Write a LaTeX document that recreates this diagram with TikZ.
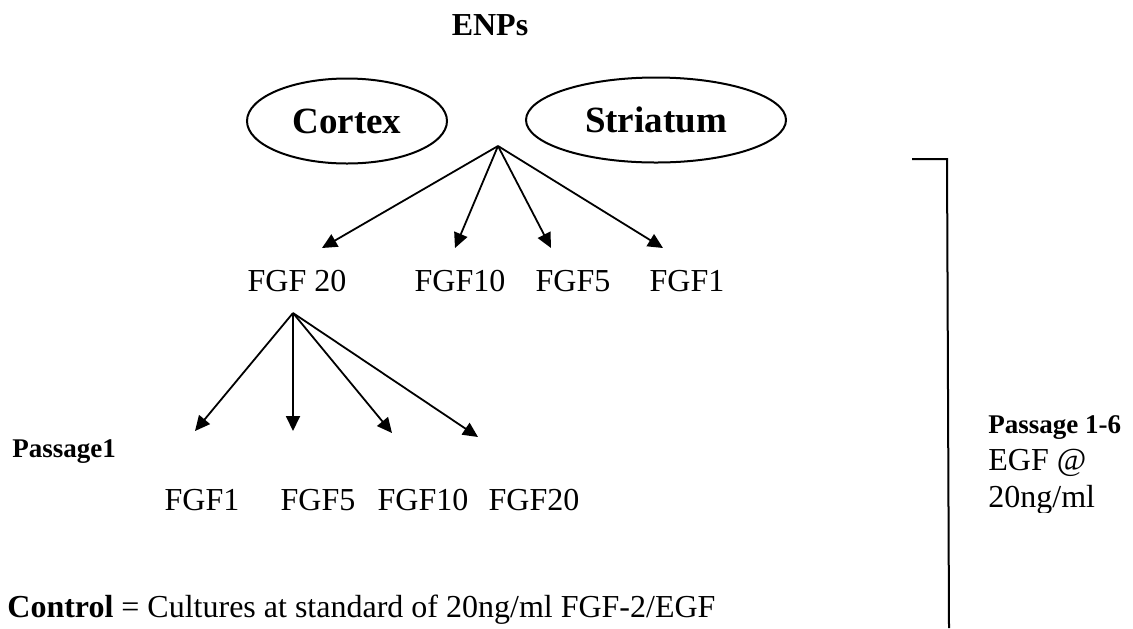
\documentclass[tikz,border=0pt]{standalone}
\usepackage{fontspec}
\setmainfont{Liberation Serif}
\usetikzlibrary{arrows.meta, shapes.geometric}
\newcommand{\lbltxt}{\fontsize{16}{19}\selectfont}
\newcommand{\sidetxt}{\fontsize{13.5}{16}\selectfont}
\newcommand{\regtxt}{\fontsize{18.5}{22}\selectfont}

\begin{document}
\begin{tikzpicture}[x=0.5pt, y=-0.5pt,
    lbl/.style={anchor=base, font=\lbltxt, inner sep=0pt},
    region/.style={draw, ellipse, line width=1pt, inner sep=0pt, font=\regtxt\bfseries},
    arr/.style={-{Triangle[length=7.5pt, width=7pt]}, line width=0.9pt}]
    \useasboundingbox (0,0) rectangle (1133,628);

    % Title
    \node[lbl, font=\lbltxt\bfseries] (enps) at (490,35) {ENPs};

    % Tissue regions
    \node[region, minimum width=100pt, minimum height=42.5pt] (cortex) at (347,121) {Cortex};
    \node[region, minimum width=130pt, minimum height=42.5pt] (striatum) at (656,120) {Striatum};

    % First split
    \node[lbl] (ftwenty) at (297,291) {FGF 20};
    \node[lbl] (ften) at (460,291) {FGF10};
    \node[lbl] (ffive) at (573,291) {FGF5};
    \node[lbl] (fone) at (687,291) {FGF1};

    \coordinate (split) at (498,146);
    \coordinate (tipA) at (322,248);
    \coordinate (tipB) at (455,248);
    \coordinate (tipC) at (551,248);
    \coordinate (tipD) at (663,248);
    \foreach \t in {tipA, tipB, tipC, tipD}
        \draw[arr] (split) -- (\t);

    % Second split, passage 1
    \node[lbl, anchor=base west, font=\sidetxt\bfseries] (passone) at (12,457) {Passage1};
    \node[lbl] (pone) at (202,510) {FGF1};
    \node[lbl] (pfive) at (318,510) {FGF5};
    \node[lbl] (pten) at (423,510) {FGF10};
    \node[lbl] (ptwenty) at (534,510) {FGF20};

    \coordinate (splittwo) at (293,313);
    \coordinate (tipE) at (195,431);
    \coordinate (tipF) at (293,431);
    \coordinate (tipG) at (392,433);
    \coordinate (tipH) at (478,437);
    \foreach \t in {tipE, tipF, tipG, tipH}
        \draw[arr] (splittwo) -- (\t);

    % Bracket and passage note
    \coordinate (brA) at (912,159);
    \coordinate (brB) at (947,159);
    \coordinate (brC) at (949,628);
    \draw[line width=1pt] (brA) -- (brB) -- (brC);
    \node[lbl, anchor=base west, font=\sidetxt\bfseries] (passall) at (988,433) {Passage 1-6};
    \node[lbl, anchor=base west] (egf) at (988,470) {EGF @};
    \begin{scope}
        \clip (960,470) rectangle (1133,512);
        \node[lbl, anchor=base west] (conc) at (988,507) {20ng/ml};
    \end{scope}

    % Control
    \node[lbl, anchor=base west] (control) at (7,617) {\textbf{Control} = Cultures at standard of 20ng/ml FGF-2/EGF};
\end{tikzpicture}
\end{document}
